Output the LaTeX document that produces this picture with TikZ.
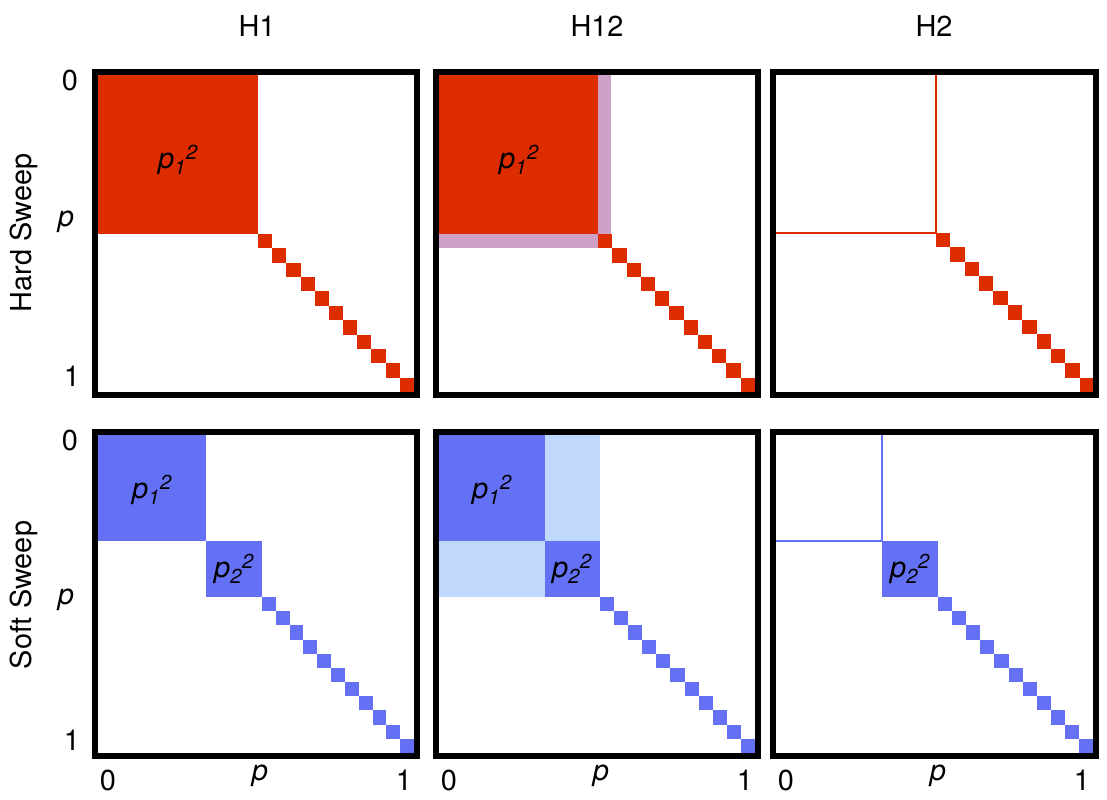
\documentclass[tikz,border=0pt]{standalone}
\usepackage{fontspec}
\setmainfont{TeX Gyre Heros}
\usetikzlibrary{calc}

\definecolor{hardred}{RGB}{221,44,0}
\definecolor{hardmix}{RGB}{205,160,200}
\definecolor{softblue}{RGB}{100,113,245}
\definecolor{softmix}{RGB}{192,216,252}

\tikzset{
  frame/.style={black,line width=6bp},
  lbl/.style={font=\fontsize{29}{30}\selectfont, inner sep=0pt},
  ital/.style={font=\fontsize{29}{30}\selectfont\itshape, inner sep=0pt},
}

\begin{document}
\begin{tikzpicture}[x=1bp,y=-1bp]

\useasboundingbox (0,0) rectangle (1107,800);

% column and row titles
\node[lbl] (t1) at (257,26) {H1};
\node[lbl] (t12) at (597,26) {H12};
\node[lbl] (t2) at (934,26) {H2};
\node[lbl,rotate=90] (hard) at (24,233) {Hard Sweep};
\node[lbl,rotate=90] (soft) at (24,595) {Soft Sweep};

% axis labels
\node[lbl] (h0) at (70,80) {0};
\node[ital] (hp) at (66,222) {p};
\node[lbl] (h1) at (72,376) {1};
\node[lbl] (s0) at (70,440) {0};
\node[ital] (sp) at (66,600) {p};
\node[lbl] (s1) at (72,740) {1};
\foreach \x/\n in {98/a,439/b,776/c}{
  \node[lbl] (x0\n) at (\x+10,780) {0};
  \node[ital] (xp\n) at (\x+162,776) {p};
  \node[lbl] (x1\n) at (\x+306,780) {1};
}

% hard sweep, H1
\fill[hardred] (98,75) rectangle +(160,159);
\foreach \i in {0,...,10} \fill[hardred] ({258+\i*14.18},{234+\i*14.36}) rectangle +(14.18,14.36);
\node[ital] (pa) at (178,160) {p\textsubscript{1}\textsuperscript{2}};
\draw[frame] (95,72) rectangle (417,395);

% hard sweep, H12
\fill[hardmix] (439,75) rectangle +(172,173);
\fill[hardred] (439,75) rectangle +(159,159);
\foreach \i in {0,...,10} \fill[hardred] ({598+\i*14.27},{234+\i*14.36}) rectangle +(14.27,14.36);
\node[ital] (pb) at (519,160) {p\textsubscript{1}\textsuperscript{2}};
\draw[frame] (436,72) rectangle (758,395);

% hard sweep, H2
\draw[hardred,line width=1.8bp] (776,233) -- (936,233) -- (936,75);
\foreach \i in {0,...,10} \fill[hardred] ({936+\i*14.36},{233+\i*14.45}) rectangle +(14.36,14.45);
\draw[frame] (773,72) rectangle (1096,395);

% soft sweep, H1
\fill[softblue] (98,435) rectangle +(108,106);
\fill[softblue] (206,541) rectangle +(56,56);
\foreach \i in {0,...,10} \fill[softblue] ({262+\i*13.82},{597+\i*14.18}) rectangle +(13.82,14.18);
\node[ital] (pc) at (152,490) {p\textsubscript{1}\textsuperscript{2}};
\node[ital] (pd) at (234,569) {p\textsubscript{2}\textsuperscript{2}};
\draw[frame] (95,432) rectangle (417,756);

% soft sweep, H12
\fill[softmix] (439,435) rectangle +(161,162);
\fill[softblue] (439,435) rectangle +(106,106);
\fill[softblue] (545,541) rectangle +(55,56);
\foreach \i in {0,...,10} \fill[softblue] ({600+\i*14.09},{597+\i*14.18}) rectangle +(14.09,14.18);
\node[ital] (pe) at (492,490) {p\textsubscript{1}\textsuperscript{2}};
\node[ital] (pf) at (572,569) {p\textsubscript{2}\textsuperscript{2}};
\draw[frame] (436,432) rectangle (758,756);

% soft sweep, H2
\draw[softblue,line width=1.8bp] (776,541) -- (882,541) -- (882,435);
\fill[softblue] (882,541) rectangle +(56,56);
\foreach \i in {0,...,10} \fill[softblue] ({938+\i*14.1},{597+\i*14.18}) rectangle +(14.1,14.18);
\node[ital] (pg) at (910,569) {p\textsubscript{2}\textsuperscript{2}};
\draw[frame] (773,432) rectangle (1096,756);

\end{tikzpicture}
\end{document}
